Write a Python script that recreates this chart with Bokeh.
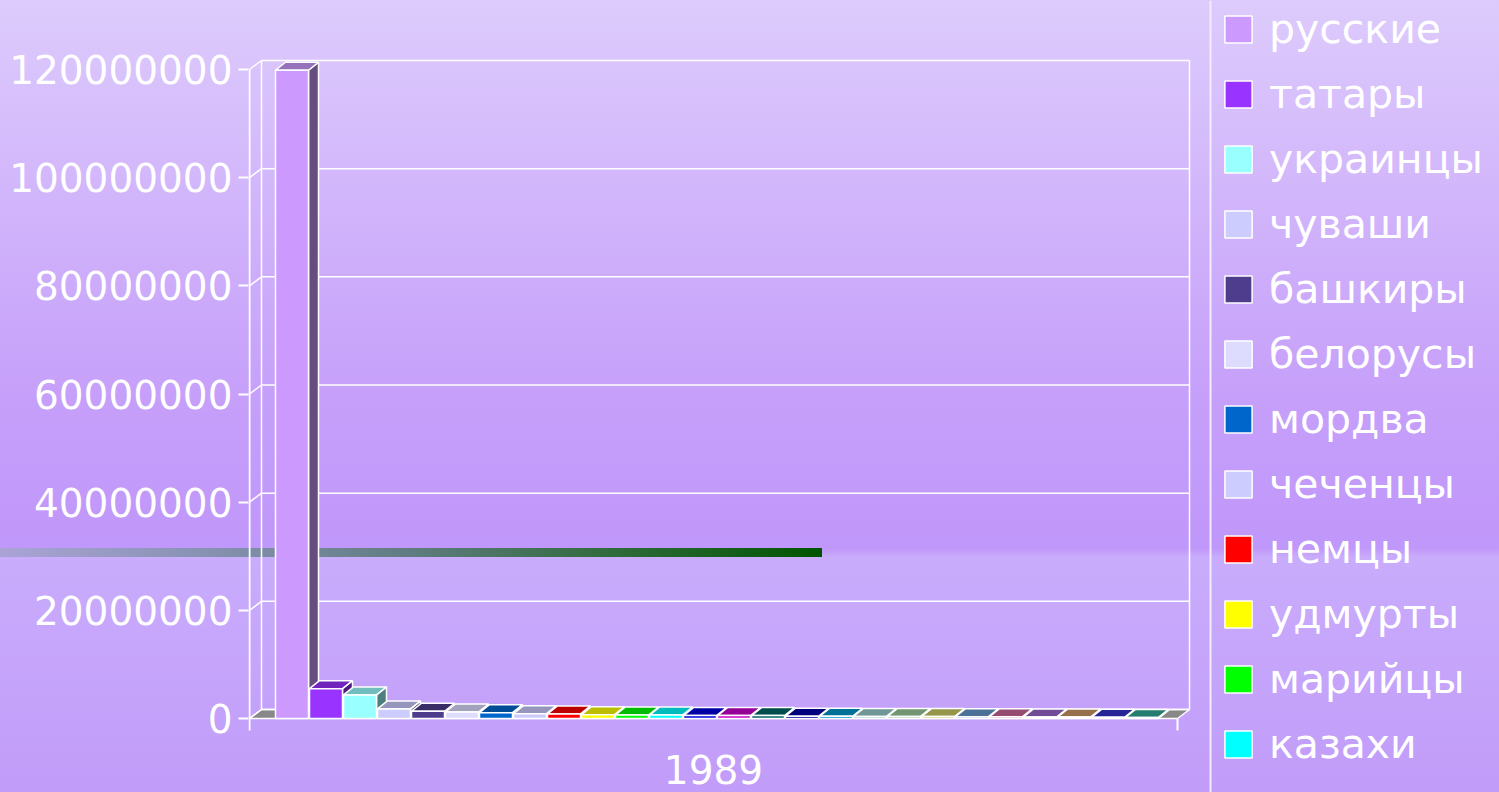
from bokeh.plotting import figure
from bokeh.models import (Range1d, FixedTicker, BasicTickFormatter, Legend, LegendItem,
                          ColumnDataSource)
from bokeh.core.properties import value
from bokeh.embed import file_html
from bokeh.resources import INLINE

# ---------------- data ----------------
groups = ["русские", "татары", "украинцы", "чуваши", "башкиры", "белорусы", "мордва",
          "чеченцы", "немцы", "удмурты", "марийцы", "казахи", "аварцы", "евреи",
          "армяне", "буряты", "осетины", "кабардинцы", "якуты", "даргинцы", "коми",
          "азербайджанцы", "кумыки", "лезгины", "ингуши", "тувинцы"]
population = [119865946, 5522096, 4362872, 1773645, 1345273, 1206222, 1072939,
              898999, 842295, 714833, 643698, 635865, 544016, 536848,
              532390, 417425, 402275, 386055, 380242, 353348, 336309,
              335889, 277163, 257270, 215068, 206160]
colors = ["#cc99ff", "#9933ff", "#99ffff", "#ccccff", "#4d3d8c", "#dddcff", "#0066cc",
          "#ccccff", "#ff0000", "#ffff00", "#00ff00", "#00ffff", "#0000e0", "#cc00cc",
          "#006666", "#0000aa", "#0099cc", "#99cccc", "#99cc99", "#cccc66", "#6699cc",
          "#cc6699", "#9966cc", "#cc9966", "#3333cc", "#33aa99"]
years = ["1989"]
y_ticks = [0, 20000000, 40000000, 60000000, 80000000, 100000000, 120000000]
legend_count = 12

# ---------------- layout helpers (pixel geometry) ----------------
W, H = 1499, 792
FRAME_LEFT = 248
BAR0 = 275          # page x of first bar front
PITCH = 34          # px per bar slot
ZERO_Y = 718        # page y of value 0
PX_PER_UNIT = 649 / 120e6


def dxu(px):
    return px / PITCH


def dyu(px):
    return px / PX_PER_UNIT


x_range = Range1d(dxu(FRAME_LEFT - BAR0), dxu(W - BAR0))
y_range = Range1d(-dyu(H - ZERO_Y), dyu(ZERO_Y))

axis_x = dxu(249 - BAR0)
n = len(groups)
floor_right = dxu(1177 - BAR0)
dxw, dyw = dxu(12), dyu(9)
bw, bdx, bdy = dxu(33), dxu(10), dyu(8)
top_val = y_ticks[-1]


def shade(hexcol, f):
    r, g, b = int(hexcol[1:3], 16), int(hexcol[3:5], 16), int(hexcol[5:7], 16)
    return "#%02x%02x%02x" % (int(r * f), int(g * f), int(b * f))


bg = ("linear-gradient(to right, #aaa4d6 0%, #8792b2 25%, #5f7c80 50%, #2f6a3a 75%, #005400 100%) "
      "0px 548px / 822px 9px no-repeat, "
      "linear-gradient(to bottom, #ddcbfc 0px, #c69ffa 400px, #c097fa 548px, #c9acfc 557px, #c19cf9 792px)")

p = figure(width=W, height=H, x_range=x_range, y_range=y_range,
           output_backend="svg", toolbar_location=None, x_axis_type=None,
           min_border_left=FRAME_LEFT, min_border_right=0, min_border_top=0,
           min_border_bottom=0, background_fill_color=None, border_fill_color=None,
           outline_line_color=None,
           styles={"background": bg})
p.grid.visible = False

WHITE = "#ffffff"

# floor
p.patch(x=[axis_x, floor_right, floor_right + dxw, axis_x + dxw], y=[0, 0, dyw, dyw],
        fill_color="#888888", line_color=WHITE, line_width=1.5)

# back wall gridlines and left wall diagonals
p.segment(x0=[axis_x + dxw] * len(y_ticks), y0=[t + dyw for t in y_ticks],
          x1=[floor_right + dxw] * len(y_ticks), y1=[t + dyw for t in y_ticks],
          line_color=WHITE, line_width=1.5)
p.segment(x0=[axis_x] * len(y_ticks), y0=y_ticks,
          x1=[axis_x + dxw] * len(y_ticks), y1=[t + dyw for t in y_ticks],
          line_color=WHITE, line_width=1.5)
p.segment(x0=[axis_x + dxw, floor_right + dxw], y0=[dyw, dyw],
          x1=[axis_x + dxw, floor_right + dxw], y1=[top_val + dyw, top_val + dyw],
          line_color=WHITE, line_width=1.5)
# front axis line and bottom ticks
p.segment(x0=[axis_x, floor_right], y0=[-dyu(12), -dyu(12)],
          x1=[axis_x, floor_right], y1=[top_val, 0],
          line_color=WHITE, line_width=2)

# bars
lefts = [float(i) for i in range(n)]
rights = [l + bw for l in lefts]
tops_c = [shade(c, 0.74) for c in colors]
sides_c = [shade(c, 0.5) for c in colors]

p.patches(xs=[[r, r + bdx, r + bdx, r] for r in rights],
          ys=[[0, bdy, v + bdy, v] for v in population],
          fill_color=sides_c, line_color=WHITE, line_width=1.5)
p.patches(xs=[[l, r, r + bdx, l + bdx] for l, r in zip(lefts, rights)],
          ys=[[v, v, v + bdy, v + bdy] for v in population],
          fill_color=tops_c, line_color=WHITE, line_width=1.5)
src = ColumnDataSource(dict(left=lefts, right=rights, top=population,
                            bottom=[0] * n, color=colors, name=groups))
fronts = p.quad(left="left", right="right", bottom="bottom", top="top", source=src,
                fill_color="color", line_color=WHITE, line_width=1.5)

# category label
p.text(x=[(axis_x + floor_right) / 2], y=[-dyu(51)], text=years,
       text_font=value("DejaVu Sans"), text_font_size="39px", text_color=WHITE,
       text_align="center", text_baseline="middle")

# legend separator line
p.segment(x0=[dxu(1210 - BAR0)], y0=[y_range.start], x1=[dxu(1210 - BAR0)], y1=[y_range.end],
          line_color="#f2ecfc", line_width=2)

# y axis
ax = p.yaxis[0]
ax.ticker = FixedTicker(ticks=y_ticks)
ax.formatter = BasicTickFormatter(use_scientific=False)
ax.axis_line_color = None
ax.major_tick_out = 10
ax.major_tick_in = 0
ax.minor_tick_out = 0
ax.minor_tick_in = 0
ax.major_tick_line_color = WHITE
ax.major_tick_line_width = 2
ax.major_label_standoff = 6
ax.major_label_text_font = "DejaVu Sans"
ax.major_label_text_font_size = "39px"
ax.major_label_text_color = WHITE

# legend
items = [LegendItem(label=groups[i], renderers=[fronts], index=i) for i in range(legend_count)]
legend = Legend(items=items, location=(973, 24), padding=15, spacing=17,
                glyph_width=34, glyph_height=34, label_height=40, label_standoff=14,
                label_text_font="DejaVu Sans", label_text_font_size="41px",
                label_text_color=WHITE, label_text_baseline="middle",
                border_line_color=None, background_fill_alpha=0)
p.add_layout(legend)

open("out.html", "w").write(file_html(p, INLINE))
